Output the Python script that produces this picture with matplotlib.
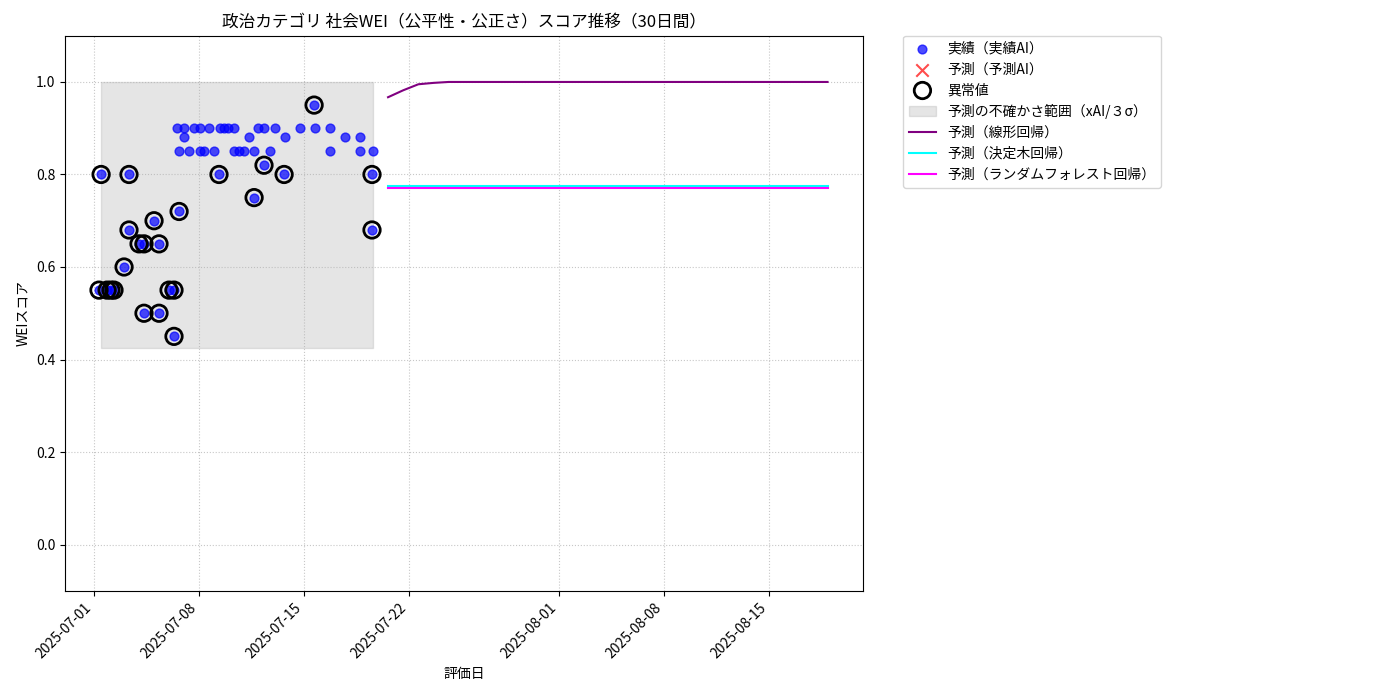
import numpy as np
import pandas as pd
import matplotlib.pyplot as plt
import matplotlib.dates as mdates

plt.rcParams['font.family'] = 'Noto Sans CJK JP'

base = pd.Timestamp('2025-07-01')

# 実績 (日オフセット, スコア)
act_days = [0.33, 0.47, 0.87, 1.13, 1.33, 2.0, 2.33, 2.33, 3.0, 3.33, 3.33, 4.0, 4.33, 4.33,
            5.0, 5.33, 5.33, 5.67, 8.33, 10.67, 11.33, 12.67, 14.67, 18.53, 18.53,
            5.55, 6.02, 6.69, 7.07, 7.69, 8.4, 8.69, 8.95, 9.35, 10.95, 11.33, 12.09, 13.75, 14.75, 15.75,
            6.02, 10.33, 12.73, 16.75, 17.75,
            5.69, 6.35, 7.07, 7.35, 8.02, 9.35, 9.67, 10.02, 10.69, 11.75, 15.75, 17.75, 18.62]
act_vals = [0.55, 0.80, 0.55, 0.55, 0.55, 0.60, 0.80, 0.68, 0.65, 0.65, 0.50, 0.70, 0.65, 0.50,
            0.55, 0.55, 0.45, 0.72, 0.80, 0.75, 0.82, 0.80, 0.95, 0.80, 0.68,
            0.90, 0.90, 0.90, 0.90, 0.90, 0.90, 0.90, 0.90, 0.90, 0.90, 0.90, 0.90, 0.90, 0.90, 0.90,
            0.88, 0.88, 0.88, 0.88, 0.88,
            0.85, 0.85, 0.85, 0.85, 0.85, 0.85, 0.85, 0.85, 0.85, 0.85, 0.85, 0.85, 0.85]
n_anom = 25

band_start, band_end = 0.47, 18.6
band_low, band_high = 0.425, 1.0

pred_days = list(np.linspace(19.6, 48.9, 30))
lin_vals = [0.967, 0.982, 0.995, 0.998] + [1.0] * 26
tree_vals = [0.775] * 30
rf_vals = [0.770] * 30

to_dt = lambda ds: [base + pd.Timedelta(days=d) for d in ds]
act_x = to_dt(act_days)
pred_x = to_dt(pred_days)

fig = plt.figure(figsize=(14, 7), dpi=100)
ax = fig.add_axes([0.0465, 0.156, 0.57, 0.793])

ax.fill_between(to_dt([band_start, band_end]), band_low, band_high, color='gray', alpha=0.2,
                label='予測の不確かさ範囲（xAI/３σ）')
ax.scatter(act_x, act_vals, color='blue', alpha=0.7, s=40, label='実績（実績AI）', zorder=3)
ax.scatter([], [], color='red', marker='x', s=80, alpha=0.7, label='予測（予測AI）')
ax.scatter(act_x[:n_anom], act_vals[:n_anom], facecolors='none', edgecolors='black', s=140,
           linewidths=2, label='異常値', zorder=4)
ax.plot(pred_x, lin_vals, color='purple', label='予測（線形回帰）')
ax.plot(pred_x, tree_vals, color='cyan', label='予測（決定木回帰）')
ax.plot(pred_x, rf_vals, color='magenta', label='予測（ランダムフォレスト回帰）')

ax.set_xlim(base - pd.Timedelta(days=1.93), base + pd.Timedelta(days=51.27))
ax.set_ylim(-0.1, 1.1)
ticks = pd.to_datetime(['2025-07-01', '2025-07-08', '2025-07-15', '2025-07-22',
                        '2025-08-01', '2025-08-08', '2025-08-15'])
ax.set_xticks(ticks)
ax.xaxis.set_major_formatter(mdates.DateFormatter('%Y-%m-%d'))
plt.setp(ax.get_xticklabels(), rotation=45, ha='right')
ax.grid(True, linestyle=':', alpha=0.7)
ax.set_title('政治カテゴリ 社会WEI（公平性・公正さ）スコア推移（30日間）')
ax.set_xlabel('評価日')
ax.set_ylabel('WEIスコア')

h, l = ax.get_legend_handles_labels()
order = [l.index(k) for k in ['実績（実績AI）', '予測（予測AI）', '異常値', '予測の不確かさ範囲（xAI/３σ）',
                              '予測（線形回帰）', '予測（決定木回帰）', '予測（ランダムフォレスト回帰）']]
ax.legend([h[i] for i in order], [l[i] for i in order], bbox_to_anchor=(1.05, 1), loc='upper left',
          borderaxespad=0.)

fig.savefig('out.png')
